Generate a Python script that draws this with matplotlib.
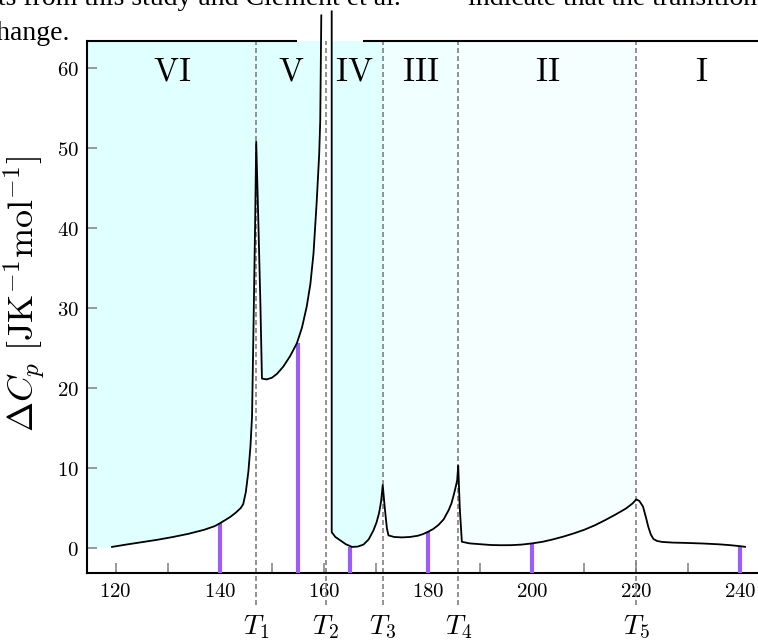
import numpy as np
import matplotlib
matplotlib.use("Agg")
import matplotlib.pyplot as plt

plt.rcParams['mathtext.fontset'] = 'cm'

# excess heat capacity, split where the curve diverges at T2
# phases VI and V (up to the divergence)
t_a = [119.3, 122, 125, 128, 131, 134, 137, 139, 140, 141, 142, 143, 144, 144.5,
       145.0, 145.5, 145.9, 146.2, 146.5, 146.8, 147.0, 147.4, 147.8, 148.1, 149.0,
       150.0, 151.0, 152.2, 153.5, 154.8, 155.8, 156.7, 157.4, 158.0, 158.6, 159.1,
       159.3, 159.4, 159.5]
cp_a = [0.16, 0.45, 0.75, 1.05, 1.4, 1.8, 2.3, 2.75, 3.1, 3.5, 3.9, 4.4, 5.0, 5.5,
        7.0, 9.6, 12.8, 16.5, 28.5, 41.0, 50.8, 41.0, 30.6, 21.2, 21.1,
        21.3, 21.8, 22.7, 24.0, 25.6, 27.6, 30.2, 33.0, 36.8, 43.1, 49.3,
        53.5, 60.0, 66.6]

# phase IV, peak at T3
t_b = [161.5, 161.5, 162.2, 163.1, 164.2, 165.4, 166.5, 167.6, 168.6, 169.5, 170.1,
       170.6, 171.0, 171.3, 171.7, 172.1, 172.4]
cp_b = [67.1, 2.0, 1.4, 1.0, 0.5, 0.16, 0.2, 0.45, 1.1, 2.2, 3.2,
        4.4, 5.9, 7.9, 5.0, 2.5, 1.6]

# phase III, peak at T4
t_c = [173.5, 175, 176.5, 178, 179, 180, 181, 182, 183, 184, 184.5, 185.0, 185.4,
       185.6, 185.8, 186.1, 186.5]
cp_c = [1.4, 1.35, 1.4, 1.55, 1.75, 2.05, 2.4, 2.9, 3.6, 4.8, 5.6, 6.8, 7.9,
        8.5, 10.3, 5.0, 0.8]

# phases II and I
t_d = [188, 190, 192, 194, 196, 198, 200, 202, 204, 206, 208, 210, 212, 214, 216,
       218, 219.3, 220.0, 220.6, 221.3, 221.8, 222.3, 222.8, 223.3, 224, 225, 227,
       230, 233, 236, 238, 240, 240.9]
cp_d = [0.6, 0.5, 0.4, 0.37, 0.38, 0.45, 0.6, 0.8, 1.1, 1.45, 1.85, 2.3, 2.85, 3.5,
        4.2, 4.95, 5.6, 6.1, 5.9, 5.2, 4.0, 2.7, 1.7, 1.15, 0.9, 0.78, 0.7,
        0.65, 0.58, 0.48, 0.38, 0.25, 0.17]

# temperatures of the measurements (purple markers)
meas_T = [140, 155, 165, 180, 200, 240]
meas_cp = [3.1, 25.6, 0.2, 2.05, 0.6, 0.25]

# transition temperatures and phases
trans_T = [147.0, 160.4, 171.3, 185.8, 220.0]
trans_labels = [r'$T_1$', r'$T_2$', r'$T_3$', r'$T_4$', r'$T_5$']
phase_labels = ['VI', 'V', 'IV', 'III', 'II', 'I']
phase_colors = ['#e0ffff', '#e0ffff', '#e0ffff', '#f0ffff', '#f5ffff', 'white']

xmin, xmax = 114.5, 245.0
ymin, ymax = -3.1, 63.4
xticks_major = [120, 140, 160, 180, 200, 220, 240]
xticks_minor = [130, 150, 170, 190, 210, 230]
yticks = [0, 10, 20, 30, 40, 50, 60]

fig = plt.figure(figsize=(7.58, 6.4), dpi=100)
ax = fig.add_axes([0.1148, 0.1047, 0.8963, 0.83125])

# shaded phase regions
edges = [xmin] + trans_T + [xmax]
for i in range(len(phase_labels)):
    ax.axvspan(edges[i], edges[i + 1], color=phase_colors[i], lw=0, zorder=0)
    ax.text((edges[i] + edges[i + 1]) / 2, 59.6, r'$\mathrm{%s}$' % phase_labels[i],
            fontsize=24, ha='center', va='center', zorder=6)

# white below the curve
x_fill = np.concatenate([[xmin], t_a, t_b, t_c, t_d, [xmax]])
y_fill = np.concatenate([[cp_a[0]], cp_a, cp_b, cp_c, cp_d, [cp_d[-1]]])
ax.fill_between(x_fill, ymin - 5, y_fill, color='white', lw=0, zorder=1)

# transition lines
for t, lab in zip(trans_T, trans_labels):
    ax.axvline(t, ymin=-0.06, ymax=1, color='#808080', lw=1.2,
               ls=(0, (3, 1.8)), clip_on=False, zorder=2)
    ax.text(t, -8.1, lab, fontsize=20, ha='center', va='top')

ax.vlines(meas_T, ymin, meas_cp, color='#9b5cf8', lw=3, zorder=3)

ax.plot(t_a, cp_a, color='black', lw=1.3, clip_on=False, zorder=5)
ax.plot(np.concatenate([t_b, t_c, t_d]), np.concatenate([cp_b, cp_c, cp_d]),
        color='black', lw=1.3, clip_on=False, zorder=5)

ax.set_xlim(xmin, xmax)
ax.set_ylim(ymin, ymax)
ax.set_xticks(xticks_major)
ax.set_xticklabels(['$%d$' % v for v in xticks_major])
ax.set_xticks(xticks_minor, minor=True)
ax.set_yticks(yticks)
ax.set_yticklabels(['$%d$' % v for v in yticks])
ax.tick_params(which='both', direction='in', length=7, width=1.2, color='#888888',
               labelsize=15, pad=6)

for s in ['left', 'bottom']:
    ax.spines[s].set_linewidth(1.5)
ax.spines['top'].set_visible(False)
ax.spines['right'].set_visible(False)
# top frame line, interrupted where the curve leaves the plot
ax.plot([0, 0.309], [1, 1], transform=ax.transAxes, color='black', lw=1.5,
        clip_on=False, solid_capstyle='butt', zorder=6)
ax.plot([0.406, 1], [1, 1], transform=ax.transAxes, color='black', lw=1.5,
        clip_on=False, solid_capstyle='butt', zorder=6)

ax.set_ylabel(r'$\Delta C_p\ [\mathrm{JK}^{-1}\mathrm{mol}^{-1}]$', fontsize=26)
ax.yaxis.set_label_coords(-0.057, 0.524)

# caption lines above the figure
fig.text(-2 / 758, 1 - 5 / 640, 'ts from this study and Clement et al.',
         fontsize=20, family='Liberation Serif', va='baseline')
fig.text(468 / 758, 1 - 5 / 640, 'indicate that the transition',
         fontsize=20, family='Liberation Serif', va='baseline')
fig.text(-16 / 758, 1 - 40 / 640, 'change.',
         fontsize=20, family='Liberation Serif', va='baseline')

fig.savefig('out.png', dpi=100)
